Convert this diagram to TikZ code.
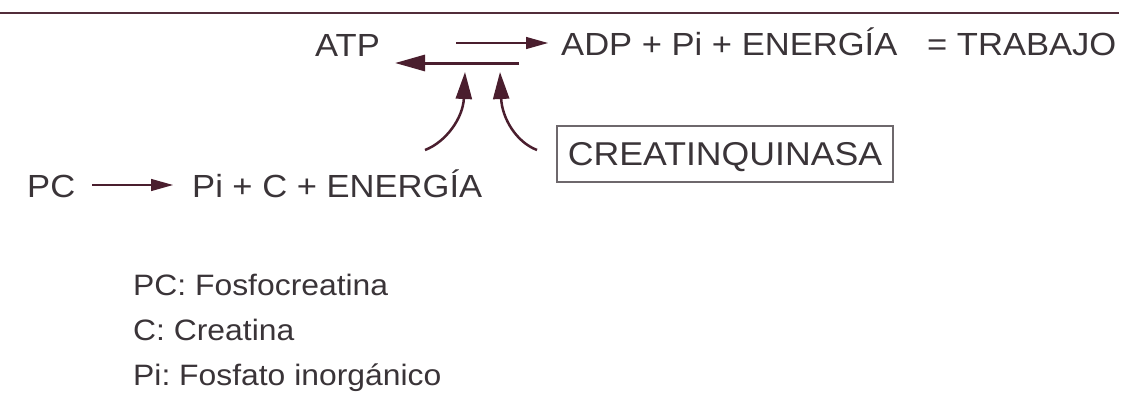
\documentclass[tikz,border=0pt]{standalone}
\usepackage{fontspec}
\setmainfont{Liberation Sans}[FakeStretch=1.08]
\usetikzlibrary{arrows.meta}
\definecolor{txt}{RGB}{58,52,56}
\definecolor{arr}{RGB}{74,30,46}
\definecolor{rulec}{RGB}{82,45,58}
\definecolor{boxc}{RGB}{110,104,108}
\frenchspacing
\tikzset{
  big/.style={font=\fontsize{32}{38}\selectfont, text=txt, inner sep=0pt, anchor=base west},
  small/.style={font=\fontsize{29.5}{35}\selectfont, text=txt, inner sep=0pt, anchor=base west},
  thinarrow/.style={draw=arr, line width=1.3pt, -{Triangle[length=22pt,width=12pt]}},
  thickarrow/.style={draw=arr, line width=3pt, -{Triangle[length=30pt,width=16pt]}},
  curvearrow/.style={draw=arr, line width=2.5pt, -{Triangle[length=27pt,width=16pt]}},
  enzbox/.style={draw=boxc, line width=1.4pt, minimum width=336pt, minimum height=56pt,
     inner sep=0pt, text height=23.6pt, text depth=0pt, text=txt, font=\fontsize{33}{38}\selectfont}
}
\begin{document}
\begin{tikzpicture}[x=1pt,y=-1pt]
\useasboundingbox[fill=white] (0,0) rectangle (1126,394);
% top rule
\coordinate (r1) at (0,13);
\coordinate (r2) at (1119,13);
\draw[draw=rulec, line width=2.4pt] (r1) -- (r2);
% texts
\node[big] (atp) at (315,56) {ATP};
\node[big] (adp) at (561,55) {ADP + Pi + ENERGÍA};
\node[big] (trab) at (927,55) {= TRABAJO};
\node[big] (pc) at (27,197) {PC};
\node[big] (prod) at (192,197) {Pi + C + ENERGÍA};
\node[enzbox] (ck) at (725,154) {CREATINQUINASA};
% legend
\node[small] (l1) at (133,295) {PC: Fosfocreatina};
\node[small] (l2) at (133,340) {C: Creatina};
\node[small] (l3) at (133,385) {Pi: Fosfato inorgánico};
% reaction arrows
\coordinate (fa) at (456,43);
\coordinate (fb) at (548,43);
\draw[thinarrow] (fa) -- (fb);
\coordinate (ba) at (519,63);
\coordinate (bb) at (395,63);
\draw[thickarrow] (ba) -- (bb);
\coordinate (pa) at (92,185);
\coordinate (pb) at (173,185);
\draw[thinarrow] (pa) -- (pb);
% curved arrows
\coordinate (cl0) at (425,150);
\coordinate (cl1) at (465,72);
\draw[curvearrow] (cl0) .. controls (446,142) and (463,118) .. (cl1);
\coordinate (cr0) at (537,150);
\coordinate (cr1) at (500,72);
\draw[curvearrow] (cr0) .. controls (516,142) and (502,118) .. (cr1);
\end{tikzpicture}
\end{document}
